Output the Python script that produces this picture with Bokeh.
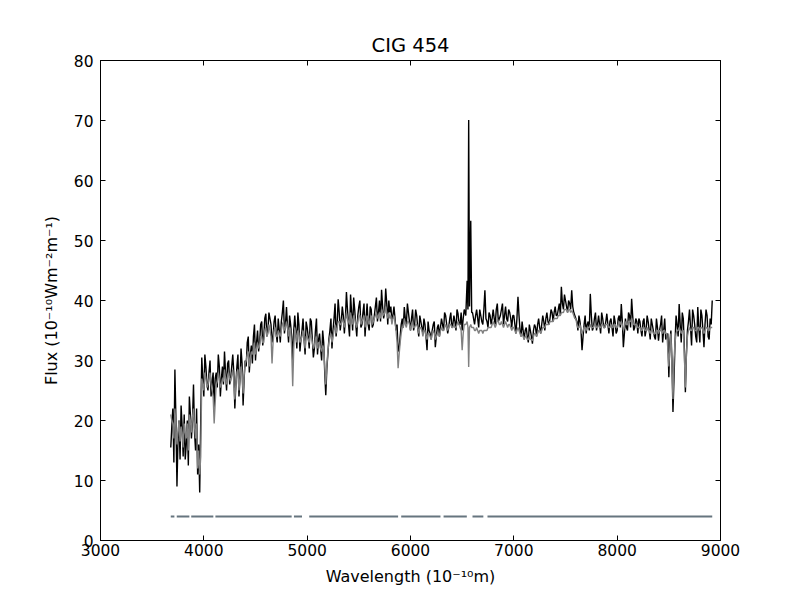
from bokeh.plotting import figure
from bokeh.models import LinearAxis, Range1d, FixedTicker, CustomJSTickFormatter
from bokeh.embed import file_html
from bokeh.resources import INLINE

title_text = "CIG 454"
x_label = "Wavelength (10\u207b\u00b9\u2070m)"
y_label = "Flux (10\u207b\u00b9\u2070Wm\u207b\u00b2m\u207b\u00b9)"
x_ticks = [3000, 4000, 5000, 6000, 7000, 8000, 9000]
y_ticks = [0, 10, 20, 30, 40, 50, 60, 70, 80]

# main samples
wave = [3680, 3700, 3720, 3740, 3760, 3780, 3800, 3820, 3840, 3860,
        3880, 3900, 3920, 3940, 3960, 3980, 4000, 4020, 4040, 4060,
        4080, 4100, 4120, 4140, 4160, 4180, 4200, 4220, 4240, 4260,
        4280, 4300, 4320, 4340, 4360, 4380, 4400, 4420, 4440, 4460,
        4480, 4500, 4520, 4540, 4560, 4580, 4600, 4620, 4640, 4660,
        4680, 4700, 4720, 4740, 4760, 4780, 4800, 4820, 4840, 4860,
        4880, 4900, 4920, 4940, 4960, 4980, 5000, 5020, 5040, 5060,
        5080, 5100, 5120, 5140, 5160, 5180, 5200, 5220, 5240, 5260,
        5280, 5300, 5320, 5340, 5360, 5380, 5400, 5420, 5440, 5460,
        5480, 5500, 5520, 5540, 5560, 5580, 5600, 5620, 5640, 5660,
        5680, 5700, 5720, 5740, 5760, 5780, 5800, 5820, 5840, 5860,
        5880, 5900, 5920, 5940, 5960, 5980, 6000, 6020, 6040, 6060,
        6080, 6100, 6120, 6140, 6160, 6180, 6200, 6220, 6240, 6260,
        6280, 6300, 6320, 6340, 6360, 6380, 6400, 6420, 6440, 6460,
        6480, 6500, 6520, 6535, 6548, 6556, 6563, 6571, 6583, 6592,
        6600, 6620, 6640, 6660, 6680, 6700, 6720, 6740, 6760, 6780,
        6800, 6820, 6840, 6860, 6880, 6900, 6920, 6940, 6960, 6980,
        7000, 7020, 7040, 7060, 7080, 7100, 7120, 7140, 7160, 7180,
        7200, 7220, 7240, 7260, 7280, 7300, 7320, 7340, 7360, 7380,
        7400, 7420, 7440, 7460, 7480, 7500, 7520, 7540, 7560, 7580,
        7600, 7620, 7640, 7660, 7680, 7700, 7720, 7740, 7760, 7780,
        7800, 7820, 7840, 7860, 7880, 7900, 7920, 7940, 7960, 7980,
        8000, 8020, 8040, 8060, 8080, 8100, 8120, 8140, 8160, 8180,
        8200, 8220, 8240, 8260, 8280, 8300, 8320, 8340, 8360, 8380,
        8400, 8420, 8440, 8460, 8480, 8500, 8520, 8540, 8560, 8580,
        8600, 8620, 8640, 8660, 8680, 8700, 8720, 8740, 8760, 8780,
        8800, 8820, 8840, 8860, 8880, 8900, 8920]

flux_obs = [15.5, 22, 28.5, 9, 20, 22.5, 14, 13.5, 20, 24,
            17, 26, 15, 11, 8, 30.5, 24, 29, 25, 30,
            26.5, 22, 28, 31, 24, 29, 31.5, 25, 30, 27,
            31, 22, 29, 24, 32, 22.5, 30, 33, 28, 32.5,
            34, 30, 35, 33, 36.5, 34, 37.8, 35, 37, 33,
            36.5, 34.5, 37, 33, 38, 34.5, 38.9, 33, 36, 30,
            37.5, 32, 36, 33.5, 37, 31, 35.5, 32, 36.5, 30.5,
            35, 31, 34.5, 30, 33, 24.2, 31, 35, 32, 37,
            34, 40.2, 35, 39, 34.5, 41.4, 36, 41, 35, 38.5,
            34, 39, 35.5, 38, 34, 39.5, 35, 38.5, 36, 39,
            36.5, 40, 41.8, 37, 42, 36, 38, 36.5, 39, 35,
            31.5, 34, 37, 38.9, 36, 38, 35, 38.5, 36, 37.5,
            34, 36.5, 34.5, 36, 31.7, 35, 33.5, 36, 32.2, 35.5,
            34, 37, 35, 37.5, 34.5, 37, 35.5, 37.5, 35, 37.8,
            36, 35, 38.5, 37.5, 43.3, 38.5, 70.1, 39, 53.3, 38,
            38, 36, 38.5, 35.5, 37.5, 36, 41.7, 36.5, 38, 36,
            38.5, 36, 39.5, 37, 38.5, 36, 39, 36.5, 38, 35.5,
            37.5, 34.5, 40.6, 35, 36.5, 33.5, 35.5, 33, 35, 32.8,
            36, 34, 37, 34.5, 37.5, 35, 38, 36, 38.5, 36.5,
            39, 37.5, 39.5, 42.3, 38.5, 40, 38, 39.5, 41.7, 38,
            37, 35, 36.5, 31.7, 36, 34.5, 36.5, 41.1, 35, 37,
            35, 37.5, 34.5, 37, 35.5, 37.8, 34.5, 37, 34, 36.5,
            35, 37.5, 39.4, 32.2, 37, 35, 37.5, 40.3, 35, 37,
            34.5, 36.5, 34, 37, 35, 36.5, 33.5, 36, 34, 37,
            33.3, 36, 33, 37, 34, 27.2, 35, 21.4, 33, 36,
            39.4, 33, 37, 24.7, 35, 38.5, 32.5, 37.5, 34, 38.9,
            33, 37.5, 32.2, 38.5, 34, 37, 40]

flux_model = [21, 19.5, 22, 16, 20, 19, 15.5, 18, 19.5, 21,
              18, 22, 17, 12, 11, 27, 25, 27, 26, 28,
              25, 19.5, 26, 28, 25.5, 27, 28.5, 26, 28, 26.5,
              28.5, 23.5, 28, 25, 29, 24.5, 29.5, 31, 29, 31.5,
              32, 31, 33, 32.5, 34, 33, 35.5, 34.5, 35, 29.5,
              35, 34, 35, 34, 36, 35, 36.5, 34, 35, 25.7,
              35.5, 33, 34.5, 33.5, 35, 32, 34, 33, 34, 32,
              33.5, 32, 33, 31.5, 32, 26, 31.5, 34, 33, 35,
              34.5, 36.5, 36, 37, 35.5, 38, 36.5, 38, 36, 37,
              35.5, 37.5, 36, 37, 35.5, 37.5, 36, 37.5, 36.5, 37.5,
              37, 38, 38.5, 37.5, 39, 37, 37, 36, 37.5, 35,
              28.7, 33, 35.5, 37, 35.5, 36.5, 35, 36.5, 35.5, 36,
              34.5, 35.5, 34, 35, 33.5, 34.5, 33.5, 35, 33.5, 34.5,
              34, 35.5, 35, 36, 35, 36, 35.5, 36, 35.5, 36.5,
              35.5, 31.7, 36, 36, 36.5, 35.5, 28.9, 35.5, 36, 35.5,
              35.5, 35, 35.5, 34.5, 35, 34.5, 35, 35, 35.5, 35.5,
              36.5, 35.5, 37, 36, 36.5, 35.5, 36.5, 35.5, 36, 35,
              35.5, 34.5, 35.5, 34.5, 34.5, 33.5, 34, 33.5, 33.5, 33.3,
              34.5, 34, 35, 34.5, 35.5, 35.5, 36, 36, 36.5, 36.5,
              37, 37, 37.5, 38, 38, 38.5, 38, 38.5, 38.3, 37.5,
              37, 35.5, 36, 34.5, 35.5, 35, 35.5, 36, 35.5, 36,
              35.5, 36, 35.5, 36, 35.5, 36, 35.5, 36, 35.5, 36,
              35.5, 36.5, 36.5, 35, 36.5, 36, 36.5, 37, 36, 36,
              35.5, 35.5, 35, 35.5, 35, 35, 34.5, 35, 34.5, 35,
              34.5, 35, 34.5, 35, 34.5, 29, 34.5, 23.6, 33, 35,
              35.5, 34.5, 35, 25.5, 34, 35.5, 35, 35.5, 35, 35.5,
              35, 35.5, 34.5, 35.5, 35, 35.5, 35.5]

# in-between samples
wave_mid = [3690, 3710, 3730, 3750, 3770, 3790, 3810, 3830, 3850, 3870,
            3890, 3910, 3930, 3950, 3970, 3990, 4010, 4030, 4050, 4070,
            4090, 4110, 4130, 4150, 4170, 4190, 4210, 4230, 4250, 4270,
            4290, 4310, 4330, 4350, 4370, 4390, 4410, 4430, 4450, 4470,
            4490, 4510, 4530, 4550, 4570, 4590, 4610, 4630, 4650, 4670,
            4690, 4710, 4730, 4750, 4770, 4790, 4810, 4830, 4850, 4870,
            4890, 4910, 4930, 4950, 4970, 4990, 5010, 5030, 5050, 5070,
            5090, 5110, 5130, 5150, 5170, 5190, 5210, 5230, 5250, 5270,
            5290, 5310, 5330, 5350, 5370, 5390, 5410, 5430, 5450, 5470,
            5490, 5510, 5530, 5550, 5570, 5590, 5610, 5630, 5650, 5670,
            5690, 5710, 5730, 5750, 5770, 5790, 5810, 5830, 5850, 5870,
            5890, 5910, 5930, 5950, 5970, 5990, 6010, 6030, 6050, 6070,
            6090, 6110, 6130, 6150, 6170, 6190, 6210, 6230, 6250, 6270,
            6290, 6310, 6330, 6350, 6370, 6390, 6410, 6430, 6450, 6470,
            6490, 6510,
            6610, 6630, 6650, 6670, 6690, 6710, 6730, 6750, 6770, 6790,
            6810, 6830, 6850, 6870, 6890, 6910, 6930, 6950, 6970, 6990,
            7010, 7030, 7050, 7070, 7090, 7110, 7130, 7150, 7170, 7190,
            7210, 7230, 7250, 7270, 7290, 7310, 7330, 7350, 7370, 7390,
            7410, 7430, 7450, 7470, 7490, 7510, 7530, 7550, 7570, 7590,
            7610, 7630, 7650, 7670, 7690, 7710, 7730, 7750, 7770, 7790,
            7810, 7830, 7850, 7870, 7890, 7910, 7930, 7950, 7970, 7990,
            8010, 8030, 8050, 8070, 8090, 8110, 8130, 8150, 8170, 8190,
            8210, 8230, 8250, 8270, 8290, 8310, 8330, 8350, 8370, 8390,
            8410, 8430, 8450, 8470, 8490, 8510, 8530, 8550, 8570, 8590,
            8610, 8630, 8650, 8670, 8690, 8710, 8730, 8750, 8770, 8790,
            8810, 8830, 8850, 8870, 8890, 8910]

flux_obs_mid = [19, 13, 20, 17, 13.5, 19, 21, 16, 12.5, 21,
                20, 18, 22, 16, 20, 27, 31, 26, 28, 24,
                28, 27, 25.5, 29, 27, 26, 28, 29.5, 26, 29,
                28, 26, 31, 27, 29.5, 27, 29, 34, 31, 29.5,
                36, 33, 31.5, 36, 32.5, 37, 34, 38, 36, 34,
                37.5, 33, 35, 36.5, 40, 36, 35.5, 37.5, 34, 35,
                35, 38, 31.5, 35, 33.5, 36.5, 34, 37, 33.5, 32,
                37, 33.5, 32, 35, 28, 28.5, 33.5, 37, 35, 39.5,
                36, 38, 36.5, 37.5, 37, 38.5, 34, 38, 40.5, 36,
                37.5, 40, 36, 39.5, 37, 36, 39, 35.5, 37.5, 40.5,
                38, 36.5, 39, 38, 39.5, 40, 39, 37.5, 37, 36,
                32, 36, 35.5, 37, 39.5, 36.5, 37, 35, 38.5, 35.5,
                37.5, 35.5, 37, 34, 36.5, 34.5, 35, 36.5, 34, 36,
                35.5, 36, 38, 36, 35.5, 38, 36, 36.5, 38.5, 36,
                38, 37,
                37, 37.5, 37, 38.5, 36.5, 38.5, 37, 35.5, 37.5, 37,
                37, 38.5, 36.5, 37.5, 39.5, 37.5, 37, 38.5, 37, 37.5,
                36, 37, 37.5, 34, 35, 35, 34, 36, 34, 35,
                35.5, 36, 35.5, 36, 36.5, 37, 36.5, 37, 38, 38,
                37.5, 38.5, 37.5, 39.5, 41, 39, 40, 38.5, 39, 37.5,
                36.5, 37.5, 35, 34, 37.5, 36, 35, 37.5, 35.5, 38,
                36, 36, 38, 35.5, 36.5, 36, 36.5, 35.5, 37.5, 34.5,
                37, 35.5, 36.5, 34.5, 35.5, 38, 35.5, 37.5, 35.5, 36.5,
                37, 35, 36.5, 34, 37.5, 35, 37, 35, 33.5, 35.5,
                35, 37.5, 35, 33.5, 34.5, 33, 30, 27, 37.5, 34,
                36, 38, 32, 31, 36.5, 35.5, 38.5, 36, 33, 35.5,
                38.5, 35, 36, 37.5, 33.5, 36]

flux_model_mid = [20, 17, 19, 18, 16.5, 18, 19.5, 17, 15, 20,
                  20.5, 19, 19.5, 15, 14, 26, 28, 25.5, 27, 26,
                  24, 23, 26.5, 27, 26, 26.5, 27, 27.5, 27, 27.5,
                  26.5, 26, 28.5, 27, 28, 27.5, 30, 31.5, 30.5, 31,
                  33, 32, 32, 34, 33, 35, 34, 36, 34, 33,
                  35.5, 34, 34.5, 35, 36.5, 35.5, 35.5, 35.5, 32, 32,
                  34.5, 35, 33, 34, 33.5, 34, 33.5, 34.5, 33, 32.5,
                  34, 33, 32, 32.5, 29, 29, 33, 34.5, 34, 36,
                  35.5, 36.5, 36, 36.5, 36.5, 37, 36, 37, 37.5, 36,
                  36.5, 37.5, 36.5, 37.5, 36.5, 36.5, 37, 36, 37, 38,
                  37.5, 37, 38, 38, 38, 38, 37.5, 37, 36.5, 33,
                  31, 34.5, 35.5, 36, 36.5, 36, 36, 35.5, 36, 35.5,
                  35.5, 35, 35, 34, 34.5, 34, 34.5, 34.5, 34, 34.5,
                  35, 35, 35.5, 35.5, 35.5, 36, 35.5, 35.5, 36, 36,
                  35, 34.5,
                  35.5, 35, 35, 35, 35, 35, 35, 35.5, 35.5, 36,
                  36, 36, 36.5, 36, 36, 36, 36, 36, 35.5, 35.5,
                  35, 35, 35, 34, 34, 34, 33.5, 34, 33.5, 34,
                  34.5, 34.5, 35, 35, 35.5, 36, 36, 36.5, 36.5, 37,
                  37, 37.5, 37.5, 38, 38.5, 38.5, 38.5, 38, 38, 37,
                  36, 35.5, 35, 35, 35.5, 35.5, 35.5, 35.5, 35.5, 36,
                  35.5, 35.5, 36, 35.5, 36, 36, 35.5, 35.5, 36, 35.5,
                  36, 36, 36, 35.5, 36, 36.5, 36.5, 36.5, 36, 36,
                  35.5, 35, 35.5, 35, 35.5, 35, 35, 34.5, 34.5, 35,
                  35, 35, 35, 34.5, 32, 32, 29, 30, 34.5, 35,
                  35, 35, 31, 31, 35, 35, 35.5, 35, 35, 35.5,
                  35.5, 35, 35, 35.5, 35, 35.5]

mask_level = 4
mask_start = [3680, 3738, 3878, 4112, 4872, 5020, 5910, 6320, 6600, 6745]
mask_end = [3715, 3860, 4092, 4850, 4950, 5880, 6290, 6545, 6705, 8920]

# merge the two sample sets in wavelength order
rows = sorted(list(zip(wave, flux_obs, flux_model)) +
              list(zip(wave_mid, flux_obs_mid, flux_model_mid)))
all_wave = [r[0] for r in rows]
all_obs = [r[1] for r in rows]
all_model = [r[2] for r in rows]

FONT = "DejaVu Sans"

p = figure(frame_width=620, frame_height=480,
           min_border_left=100, min_border_right=72,
           min_border_top=60, min_border_bottom=52,
           x_range=Range1d(3000, 9000), y_range=Range1d(0, 80),
           output_backend="svg", toolbar_location=None,
           title=title_text)

p.line(all_wave, all_obs, line_color="black", line_width=1.4)
p.line(all_wave, all_model, line_color="#808080", line_width=1.4)
p.segment(x0=mask_start, y0=[mask_level] * len(mask_start),
          x1=mask_end, y1=[mask_level] * len(mask_end),
          line_color="#66757f", line_width=2)

p.xgrid.visible = False
p.ygrid.visible = False
p.outline_line_color = "black"
p.outline_line_width = 1
p.background_fill_color = "white"
p.border_fill_color = "white"

p.title.align = "center"
p.title.text_font = FONT
p.title.text_font_size = "19.5px"
p.title.text_font_style = "normal"
p.title.text_color = "black"
p.title.offset = 0
p.title.standoff = 7

def style_axis(ax, ticks, labels=True):
    ax.ticker = FixedTicker(ticks=ticks)
    ax.major_tick_in = 5
    ax.major_tick_out = 0
    ax.minor_tick_in = 0
    ax.minor_tick_out = 0
    ax.axis_line_color = "black"
    ax.major_tick_line_color = "black"
    ax.major_label_text_font = FONT
    ax.major_label_text_font_size = "15.5px"
    ax.major_label_text_color = "black"
    ax.axis_label_text_font = FONT
    ax.axis_label_text_font_size = "16px"
    ax.axis_label_text_font_style = "normal"
    ax.axis_label_text_color = "black"
    if not labels:
        ax.formatter = CustomJSTickFormatter(code="return '';")
        ax.major_label_standoff = 0

xa = p.xaxis[0]
ya = p.yaxis[0]
style_axis(xa, x_ticks)
style_axis(ya, y_ticks)
xa.axis_label = x_label
ya.axis_label = y_label
xa.major_label_standoff = 3
ya.major_label_standoff = 7
xa.axis_label_standoff = 8
ya.axis_label_standoff = 10

top = LinearAxis()
right = LinearAxis()
style_axis(top, x_ticks, labels=False)
style_axis(right, y_ticks, labels=False)
p.add_layout(top, "above")
p.add_layout(right, "right")

open("out.html", "w").write(file_html(p, INLINE))
